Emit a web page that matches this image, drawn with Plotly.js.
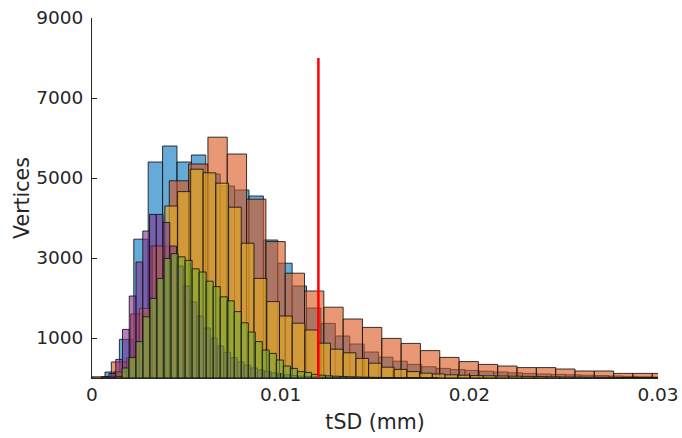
<!DOCTYPE html>
<html>
<head>
<meta charset="utf-8">
<script src="https://cdn.plot.ly/plotly-3.0.1.min.js"></script>
<style>html,body{margin:0;padding:0;background:#fff;}#chart{width:682px;height:438px;}</style>
</head>
<body>
<div id="chart"></div>
<script>
// ---- data (bin start, bin width, counts per bin) ----
var blueStart = 0.000689, blueWidth = 0.000763;
var blueCounts = [150, 965, 3470, 5400, 5800, 5400, 5575, 5100, 4800, 4700,
  4550, 3450, 2870, 2300, 1750, 1365, 1050, 850, 650, 520,
  420, 340, 280, 240, 210, 190, 170, 150, 130, 115,
  100, 90, 80, 70, 60, 50, 40, 30, 25];

var orangeStart = 0.0, orangeWidth = 0.001024;
var orangeCounts = [30, 400, 1600, 3300, 4930, 5350, 6020, 5600, 4470, 3410,
  2620, 2175, 1770, 1475, 1265, 990, 865, 685, 515, 410,
  340, 300, 260, 260, 225, 175, 175, 115, 115, 115];

var yellowStart = 0.000488, yellowWidth = 0.000675;
var yellowCounts = [30, 150, 500, 1740, 3300, 4300, 4660, 5220, 5130, 4870,
  4270, 3370, 2490, 1910, 1550, 1370, 1200, 870, 720, 630,
  490, 370, 270, 215, 160, 120, 100, 80, 70, 60,
  55, 50, 45, 40, 35, 30, 25, 22, 20, 18, 15, 12, 10, 8];

var purpleStart = 0.000543, purpleWidth = 0.000358;
var purpleCounts = [30, 115, 465, 1215, 2050, 2900, 3675, 4090, 4090, 3890,
  3300, 2800, 2300, 1900, 1550, 1250, 1000, 800, 640, 510,
  400, 320, 250, 200, 160, 125, 100, 80, 62, 48,
  38, 30, 23, 18, 14, 11, 8, 6, 5, 4, 3];

var greenStart = 0.000843, greenWidth = 0.000372;
var greenCounts = [20, 40, 250, 515, 910, 1530, 1990, 2490, 2990, 3110,
  3030, 2940, 2730, 2650, 2420, 2285, 2030, 1930, 1660, 1380,
  1150, 910, 700, 615, 450, 300, 240, 160, 140, 90,
  70, 55, 45, 38, 32, 27, 22, 18, 15, 12, 10, 8, 7, 6, 5, 4, 3];

var thresholdX = [0.012, 0.012];
var thresholdY = [0, 8000];

var xTickVals = [0, 0.01, 0.02, 0.03];
var xTickText = ['0', '0.01', '0.02', '0.03'];
var yTickVals = [1000, 3000, 5000, 7000, 9000];
var yTickText = ['1000', '3000', '5000', '7000', '9000'];

// ---- build traces ----
function histTrace(start, w, counts, color) {
  var xs = [], ws = [];
  for (var i = 0; i < counts.length; i++) { xs.push(start + (i + 0.5) * w); ws.push(w); }
  return {
    type: 'bar', x: xs, y: counts, width: ws,
    marker: { color: color, line: { color: 'rgba(20,20,20,0.85)', width: 1 } },
    hoverinfo: 'skip'
  };
}
var traces = [
  histTrace(blueStart, blueWidth, blueCounts, 'rgba(0,114,189,0.6)'),
  histTrace(orangeStart, orangeWidth, orangeCounts, 'rgba(217,83,25,0.6)'),
  histTrace(yellowStart, yellowWidth, yellowCounts, 'rgba(237,177,32,0.6)'),
  histTrace(purpleStart, purpleWidth, purpleCounts, 'rgba(126,47,142,0.6)'),
  histTrace(greenStart, greenWidth, greenCounts, 'rgba(119,172,48,0.6)'),
  { type: 'scatter', mode: 'lines', x: thresholdX, y: thresholdY,
    line: { color: '#ff0000', width: 2.5 }, hoverinfo: 'skip' }
];

var tickFont = { family: 'DejaVu Sans, sans-serif', size: 18.5, color: '#262626' };
var titleFont = { family: 'DejaVu Sans, sans-serif', size: 20.5, color: '#262626' };

var layout = {
  width: 682, height: 438,
  margin: { l: 92, r: 24, t: 18, b: 60 },
  paper_bgcolor: '#ffffff', plot_bgcolor: '#ffffff',
  showlegend: false, barmode: 'overlay', bargap: 0,
  xaxis: {
    range: [0, 0.03], tickvals: xTickVals, ticktext: xTickText,
    ticks: 'inside', ticklen: 5, tickcolor: '#262626',
    showline: true, linecolor: '#262626', linewidth: 1,
    showgrid: false, zeroline: false, tickfont: tickFont,
    title: { text: 'tSD (mm)', font: titleFont, standoff: 10 }
  },
  yaxis: {
    range: [0, 9000], tickvals: yTickVals, ticktext: yTickText,
    ticks: 'inside', ticklen: 5, tickcolor: '#262626',
    showline: true, linecolor: '#262626', linewidth: 1,
    showgrid: false, zeroline: false, tickfont: tickFont,
    ticklabelstandoff: 4,
    title: { text: 'Vertices', font: titleFont, standoff: 1 }
  }
};

Plotly.newPlot('chart', traces, layout, { displayModeBar: false, staticPlot: true });
</script>
</body>
</html>
